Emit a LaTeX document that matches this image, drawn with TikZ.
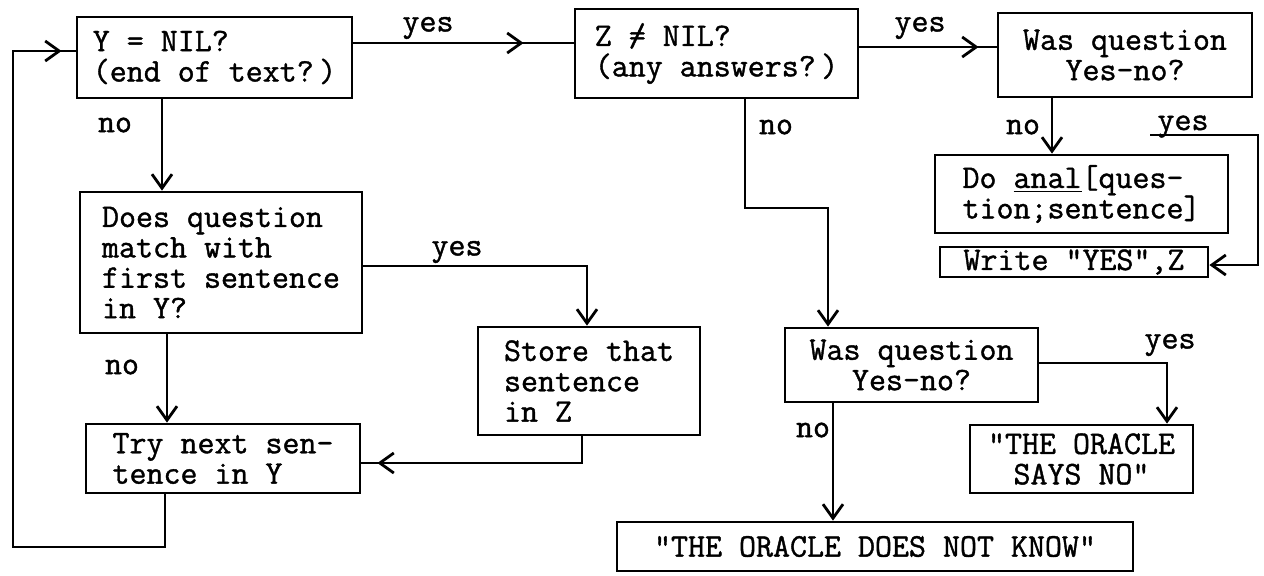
\documentclass[tikz,border=0pt]{standalone}
\usepackage{fontspec}
\newfontfamily\tw{Latin Modern Mono}[FakeBold=1.2]
\usetikzlibrary{arrows.meta,decorations.markings}
\tikzset{
  >={Straight Barb[length=7pt,width=10pt]},
  box/.style={draw, line width=1.4pt, align=left, inner xsep=4pt, inner ysep=1pt,
    font=\tw\fontsize{16.5}{15.2}\selectfont},
  cbox/.style={box, align=center},
  conn/.style={line width=1.4pt},
  lbl/.style={font=\tw\fontsize{16.5}{15.2}\selectfont, inner sep=0pt},
  tipat/.style={postaction={decorate}, decoration={markings, mark=at position #1 with {\arrow{>}}}}
}
\begin{document}
\begin{tikzpicture}[x=0.5pt,y=-0.5pt]
\useasboundingbox (0,0) rectangle (1264,575);
% boxes
\node[box, minimum width=137.5pt, minimum height=40.5pt] (A) at (214.5,57.5) {Y = NIL?\\(end of text?\,)};
\node[box, minimum width=141.5pt, minimum height=44.5pt] (B) at (716.5,53.5) {Z \rlap{/}= NIL?\\(any answers?\,)};
\node[cbox, minimum width=127pt, minimum height=42pt] (C) at (1125,55) {Was question\\Yes-no?};
\node[box, minimum width=146.5pt, minimum height=39pt] (E) at (1081.5,194) {Do \underline{anal}[ques-\\tion;sentence]};
\node[box, minimum width=134pt, minimum height=15pt, inner ysep=0pt] (F) at (1074,262) {Write "YES",Z};
\node[box, minimum width=141pt, minimum height=70.5pt] (D) at (221,262.5) {Does question\\match with\\first sentence\\in Y?};
\node[box, minimum width=111pt, minimum height=54pt] (S) at (589,381) {Store that\\sentence\\in Z};
\node[box, minimum width=137pt, minimum height=34.5pt] (T) at (223,458.5) {Try next sen-\\tence in Y};
\node[cbox, minimum width=126.5pt, minimum height=37pt] (G) at (911.5,365) {Was question\\Yes-no?};
\node[cbox, minimum width=111.5pt, minimum height=34pt] (H) at (1081.5,459) {"THE ORACLE\\SAYS NO"};
\node[box, minimum width=258pt, minimum height=24.5pt] (I) at (875,546.5) {"THE ORACLE DOES NOT KNOW"};
\coordinate (cy) at (1150,135);
% connectors
\draw[conn, tipat=-25pt] (A.east |- 0,43) -- (B.west |- 0,43);
\draw[conn, tipat=-9pt] (B.east |- 0,47) -- (C.west |- 0,47);
\draw[conn,->] (C.south -| 1052,0) -- (E.north -| 1052,0);
\draw[conn,->] (cy) -- (1258,135) -- (1258,265) -- (F.east |- 0,265);
\draw[conn,->] (B.south -| 745,0) -- (745,208) -- (828,208) -- (G.north -| 828,0);
\draw[conn,->] (G.east |- 0,363) -| (H.north -| 1167,0);
\draw[conn,->] (G.south -| 833,0) -- (I.north -| 833,0);
\draw[conn,->] (A.south -| 162,0) -- (D.north -| 162,0);
\draw[conn,->] (D.east |- 0,266) -| (S.north -| 587,0);
\draw[conn,->] (D.south -| 167,0) -- (T.north -| 167,0);
\draw[conn, tipat=-8pt] (S.south -| 582,0) |- (T.east |- 0,463);
\draw[conn, tipat=-7pt] (T.south -| 165,0) -- (165,547) -- (13,547) -- (13,51) -- (A.west |- 0,51);
% labels
\node[lbl] (l1) at (428,28) {yes};
\node[lbl] (l2) at (920,28) {yes};
\node[lbl] (l3) at (115,125) {no};
\node[lbl] (l4) at (776,127) {no};
\node[lbl] (l5) at (1023,127) {no};
\node[lbl, anchor=south] (l6) at (1183,138) {yes};
\node[lbl] (l7) at (457,252) {yes};
\node[lbl] (l8) at (122,367) {no};
\node[lbl] (l9) at (1170,345) {yes};
\node[lbl] (l10) at (813,430) {no};
\end{tikzpicture}
\end{document}
